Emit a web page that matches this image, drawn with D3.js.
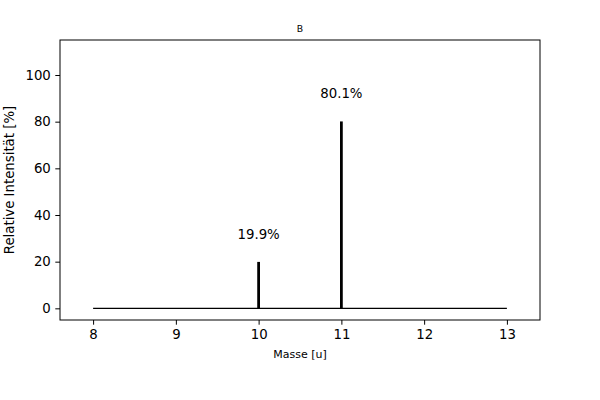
<!DOCTYPE html>
<html><head><meta charset="utf-8">
<script src="https://cdn.jsdelivr.net/npm/d3@7"></script>
<style>body{margin:0;background:#fff;} svg{display:block;font-family:"DejaVu Sans",sans-serif;}</style>
</head><body>
<svg id="c" width="600" height="400"></svg>
<script>
const masses = [10, 11];
const intensities = [19.9, 80.1];
const labels = ["19.9%", "80.1%"];
const baseRange = [8, 13];
const xTicks = [8, 9, 10, 11, 12, 13];
const yTicks = [0, 20, 40, 60, 80, 100];
const title = "B";
const xLabel = "Masse [u]";
const yLabel = "Relative Intensität [%]";

const svg = d3.select("#c");
const L = 60, R = 540, T = 40, B = 320;
const x = d3.scaleLinear().domain([7.6, 13.4]).range([L, R]);
const y = d3.scaleLinear().domain([-5, 115]).range([B, T]);

// baseline
svg.append("line")
  .attr("x1", x(baseRange[0])).attr("x2", x(baseRange[1]))
  .attr("y1", y(0)).attr("y2", y(0))
  .attr("stroke", "#000").attr("stroke-width", 1.2);

// bars
svg.selectAll("line.bar").data(masses).enter().append("line")
  .attr("class", "bar")
  .attr("x1", d => x(d)).attr("x2", d => x(d))
  .attr("y1", y(0)).attr("y2", (d, i) => y(intensities[i]))
  .attr("stroke", "#000").attr("stroke-width", 2.8);

// labels
svg.selectAll("text.lab").data(masses).enter().append("text")
  .attr("class", "lab")
  .attr("x", d => x(d)).attr("y", (d, i) => y(intensities[i] + 10))
  .attr("text-anchor", "middle").attr("font-size", "13.3px").attr("fill", "#000")
  .text((d, i) => labels[i]);

// frame
svg.append("rect").attr("x", L).attr("y", T).attr("width", R - L).attr("height", B - T)
  .attr("fill", "none").attr("stroke", "#000").attr("stroke-width", 1);

// axes
const xa = svg.append("g").attr("transform", `translate(0,${B})`)
  .call(d3.axisBottom(x).tickValues(xTicks).tickSize(4.7).tickPadding(4.5).tickFormat(d3.format("d")));
const ya = svg.append("g").attr("transform", `translate(${L},0)`)
  .call(d3.axisLeft(y).tickValues(yTicks).tickSize(4.7).tickPadding(4.5).tickFormat(d3.format("d")));
[xa, ya].forEach(a => {
  a.select(".domain").remove();
  a.selectAll("text").attr("font-size", "13.3px").attr("font-family", "DejaVu Sans").attr("fill", "#000");
  a.selectAll("line").attr("stroke", "#000").attr("stroke-width", 1);
});

// title & axis labels
svg.append("text").attr("x", (L + R) / 2).attr("y", 31.5).attr("text-anchor", "middle")
  .attr("font-size", "9.3px").text(title);
svg.append("text").attr("x", (L + R) / 2).attr("y", 358).attr("text-anchor", "middle")
  .attr("font-size", "11px").text(xLabel);
svg.append("text").attr("transform", `translate(14,${(T + B) / 2}) rotate(-90)`)
  .attr("text-anchor", "middle").attr("font-size", "13.3px").text(yLabel);
</script>
</body></html>
